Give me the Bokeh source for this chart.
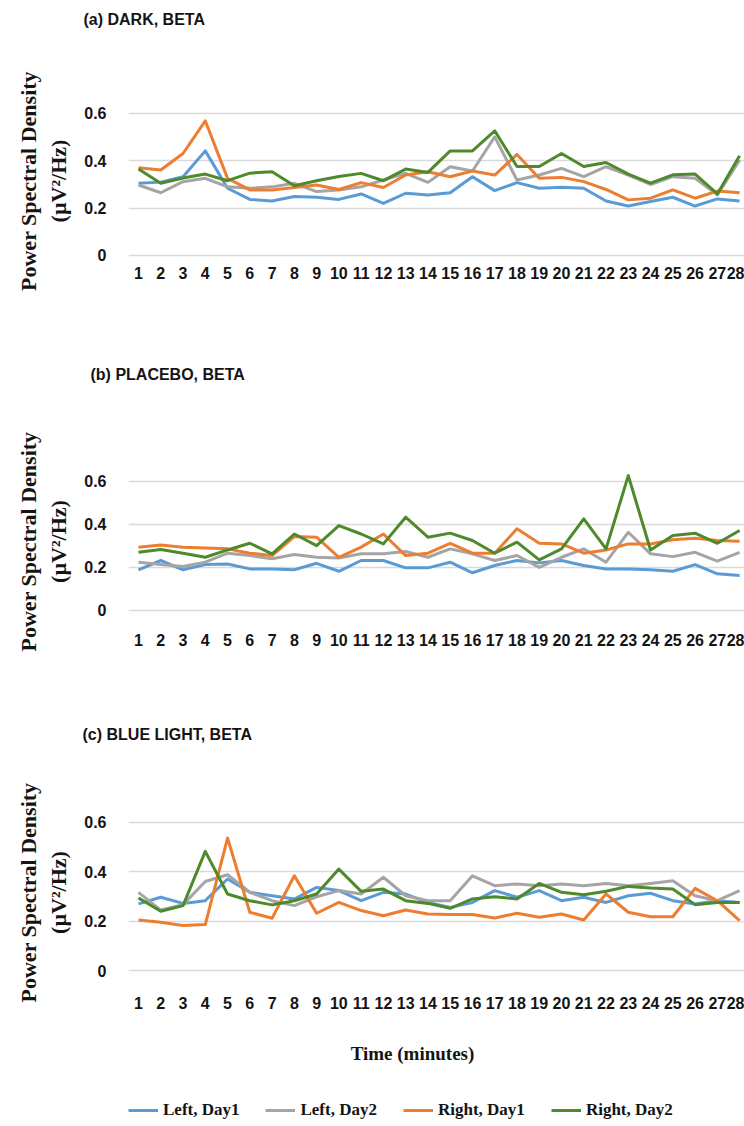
from bokeh.plotting import figure
from bokeh.layouts import column
from bokeh.models import Legend, LegendItem, FixedTicker, Range1d, LinearAxis
from bokeh.core.properties import value
from bokeh.embed import file_html
from bokeh.resources import INLINE

# ---------------- data ----------------
minutes = list(range(1, 29))
tick_labels = [str(m) for m in minutes]
y_ticks = [0, 0.2, 0.4, 0.6]
y_tick_labels = ["0", "0.2", "0.4", "0.6"]
series_names = ["Left, Day1", "Left, Day2", "Right, Day1", "Right, Day2"]
panel_titles = ["(a) DARK, BETA", "(b) PLACEBO, BETA", "(c) BLUE LIGHT, BETA"]
x_axis_title = "Time (minutes)"
y_axis_title = "Power Spectral Density\n(\u00b5V\u00b2/Hz)"

dark_left_day1 = [0.305, 0.31, 0.333, 0.442, 0.284, 0.237, 0.23, 0.249, 0.246, 0.237, 0.26, 0.22, 0.263, 0.256,
                  0.265, 0.333, 0.274, 0.308, 0.284, 0.288, 0.284, 0.23, 0.209, 0.228, 0.246, 0.209, 0.239, 0.23]
dark_left_day2 = [0.298, 0.265, 0.312, 0.326, 0.29, 0.284, 0.29, 0.305, 0.27, 0.277, 0.29, 0.319, 0.347, 0.309,
                  0.375, 0.357, 0.501, 0.319, 0.34, 0.368, 0.333, 0.375, 0.34, 0.3, 0.333, 0.326, 0.256, 0.403]
dark_right_day1 = [0.371, 0.361, 0.431, 0.569, 0.326, 0.277, 0.277, 0.287, 0.298, 0.279, 0.308, 0.287, 0.34, 0.354,
                   0.333, 0.357, 0.34, 0.427, 0.326, 0.33, 0.312, 0.279, 0.235, 0.242, 0.277, 0.242, 0.272, 0.265]
dark_right_day2 = [0.365, 0.305, 0.327, 0.344, 0.316, 0.348, 0.354, 0.295, 0.316, 0.334, 0.347, 0.316, 0.365, 0.351,
                   0.442, 0.442, 0.527, 0.376, 0.376, 0.431, 0.376, 0.393, 0.344, 0.306, 0.341, 0.344, 0.26, 0.421]

placebo_left_day1 = [0.189, 0.232, 0.189, 0.213, 0.216, 0.193, 0.193, 0.189, 0.219, 0.182, 0.232, 0.232, 0.198, 0.198,
                     0.224, 0.175, 0.209, 0.232, 0.221, 0.232, 0.209, 0.193, 0.193, 0.189, 0.182, 0.213, 0.17, 0.162]
placebo_left_day2 = [0.224, 0.213, 0.204, 0.224, 0.266, 0.255, 0.24, 0.26, 0.247, 0.244, 0.263, 0.263, 0.274, 0.247,
                     0.286, 0.263, 0.232, 0.255, 0.2, 0.247, 0.286, 0.224, 0.363, 0.263, 0.25, 0.27, 0.229, 0.27]
placebo_right_day1 = [0.294, 0.304, 0.294, 0.29, 0.286, 0.266, 0.255, 0.343, 0.34, 0.247, 0.294, 0.355, 0.255, 0.266,
                      0.312, 0.266, 0.266, 0.379, 0.312, 0.309, 0.266, 0.281, 0.309, 0.309, 0.328, 0.335, 0.325, 0.321]
placebo_right_day2 = [0.27, 0.283, 0.266, 0.247, 0.281, 0.312, 0.263, 0.355, 0.301, 0.394, 0.355, 0.309, 0.433, 0.34,
                      0.359, 0.325, 0.266, 0.317, 0.235, 0.286, 0.425, 0.286, 0.626, 0.281, 0.348, 0.359, 0.312, 0.371]

blue_left_day1 = [0.27, 0.297, 0.272, 0.283, 0.371, 0.317, 0.303, 0.29, 0.337, 0.324, 0.283, 0.317, 0.31, 0.276,
                  0.256, 0.276, 0.324, 0.297, 0.324, 0.283, 0.297, 0.276, 0.303, 0.313, 0.283, 0.27, 0.283, 0.276]
blue_left_day2 = [0.317, 0.245, 0.267, 0.361, 0.388, 0.317, 0.283, 0.263, 0.299, 0.324, 0.31, 0.378, 0.303, 0.283,
                  0.283, 0.384, 0.344, 0.351, 0.344, 0.351, 0.344, 0.353, 0.344, 0.353, 0.364, 0.303, 0.283, 0.324]
blue_right_day1 = [0.205, 0.196, 0.182, 0.186, 0.537, 0.236, 0.212, 0.384, 0.232, 0.276, 0.243, 0.222, 0.245, 0.229,
                   0.227, 0.227, 0.213, 0.232, 0.216, 0.229, 0.205, 0.31, 0.236, 0.218, 0.218, 0.333, 0.283, 0.202]
blue_right_day2 = [0.294, 0.24, 0.263, 0.483, 0.31, 0.283, 0.266, 0.283, 0.31, 0.411, 0.321, 0.33, 0.283, 0.272,
                   0.252, 0.29, 0.299, 0.29, 0.353, 0.317, 0.307, 0.321, 0.341, 0.334, 0.33, 0.267, 0.276, 0.276]

# ---------------- style ----------------
colors = ["#5B9BD5", "#A5A5A5", "#ED7D31", "#4E8A2B"]
SANS = "Liberation Sans"
SERIF = "Liberation Serif"
GRID = "#DADADA"
INK = "#141414"
W = 744
FRAME_LEFT = 128
X0, X1 = 0.551, 28.22


def make_panel(series, y_start, y_end, height, top, bottom, title, title_offset, title_gap, xlabel_standoff):
    p = figure(width=W, height=height, x_range=Range1d(X0, X1), y_range=Range1d(y_start, y_end),
               min_border_left=FRAME_LEFT, min_border_right=0, min_border_top=top, min_border_bottom=bottom,
               output_backend="svg", toolbar_location=None, title=title)
    p.outline_line_color = None
    p.xgrid.grid_line_color = None
    p.ygrid.grid_line_color = GRID
    p.ygrid.grid_line_width = 1.5
    p.ygrid.ticker = FixedTicker(ticks=y_ticks)

    xa = p.xaxis[0]
    ya = p.yaxis[0]
    ya.ticker = FixedTicker(ticks=y_ticks)
    ya.major_label_overrides = {t: s for t, s in zip(y_ticks, y_tick_labels)}
    xa.ticker = FixedTicker(ticks=minutes)
    xa.major_label_overrides = {m: s for m, s in zip(minutes, tick_labels)}
    for ax in (xa, ya):
        ax.axis_line_color = None
        ax.major_tick_line_color = None
        ax.minor_tick_line_color = None
        ax.major_label_text_font = SANS
        ax.major_label_text_font_size = "16px"
        ax.major_label_text_font_style = "bold"
        ax.major_label_text_color = INK
    ya.major_label_standoff = 16
    xa.major_label_standoff = xlabel_standoff
    ya.axis_label = y_axis_title
    ya.axis_label_text_font = SERIF
    ya.axis_label_text_font_size = "22px"
    ya.axis_label_text_font_style = "bold"
    ya.axis_label_text_color = INK
    ya.axis_label_standoff = 10

    # title styling; a blank spacer axis between title and frame sets the gap
    p.title.text_font = SANS
    p.title.text_font_size = "16px"
    p.title.text_font_style = "bold"
    p.title.text_color = INK
    p.title.align = "left"
    p.title.offset = title_offset
    p.title.standoff = 4
    spacer = LinearAxis(ticker=FixedTicker(ticks=[14]), major_label_overrides={14: ""},
                        major_label_text_font_size="0px", axis_line_color=None, major_tick_line_color=None,
                        minor_tick_line_color=None, major_tick_out=title_gap, major_tick_in=0,
                        minor_tick_out=0, minor_tick_in=0, major_label_standoff=0)
    p.add_layout(spacer, "above")

    for vals, c in zip(series, colors):
        p.line(minutes, vals, line_color=c, line_width=3, line_join="round")
    return p


panel_c_series = [blue_left_day1, blue_left_day2, blue_right_day1, blue_right_day2]
pa = make_panel([dark_left_day1, dark_left_day2, dark_right_day1, dark_right_day2],
                -0.0085, 0.638, 338, 104, 81, panel_titles[0], -45, 75, 3)
pb = make_panel([placebo_left_day1, placebo_left_day2, placebo_right_day1, placebo_right_day2],
                -0.0093, 0.6497, 360, 132, 86, panel_titles[1], -38, 86, 15)
pc = make_panel(panel_c_series, -0.0081, 0.6405, 332, 114, 58, panel_titles[2], -46, 68, 18)

# bottom strip (pixel coordinates): x-axis title and legend
SH = 94
bottom = figure(width=W, height=SH, x_range=Range1d(FRAME_LEFT, W), y_range=Range1d(SH, 0),
                min_border_left=FRAME_LEFT, min_border_right=0, min_border_top=0, min_border_bottom=0,
                x_axis_type=None, y_axis_type=None, output_backend="svg", toolbar_location=None)
bottom.outline_line_color = None
bottom.grid.visible = False
bottom.text(x=[412], y=[23], text=[x_axis_title], text_font=value(SERIF), text_font_size="19px",
            text_font_style="bold", text_color=INK, text_baseline="middle", text_align="center")
# legend keys: the panel (c) series, which fall outside this strip's ranges
keys = [bottom.line(minutes, vals, line_color=c, line_width=3) for vals, c in zip(panel_c_series, colors)]
legend = Legend(items=[LegendItem(label=n, renderers=[r]) for n, r in zip(series_names, keys)],
                orientation="horizontal", location=(0, 4))
legend.label_text_font = SERIF
legend.label_text_font_size = "17px"
legend.label_text_font_style = "bold"
legend.label_text_color = INK
legend.glyph_width = 30
legend.glyph_height = 20
legend.label_height = 20
legend.label_standoff = 5
legend.spacing = 26
legend.padding = 0
legend.margin = 0
legend.border_line_color = None
legend.background_fill_alpha = 0
bottom.add_layout(legend)

layout = column(pa, pb, pc, bottom, spacing=0)
open("out.html", "w").write(file_html(layout, INLINE))
